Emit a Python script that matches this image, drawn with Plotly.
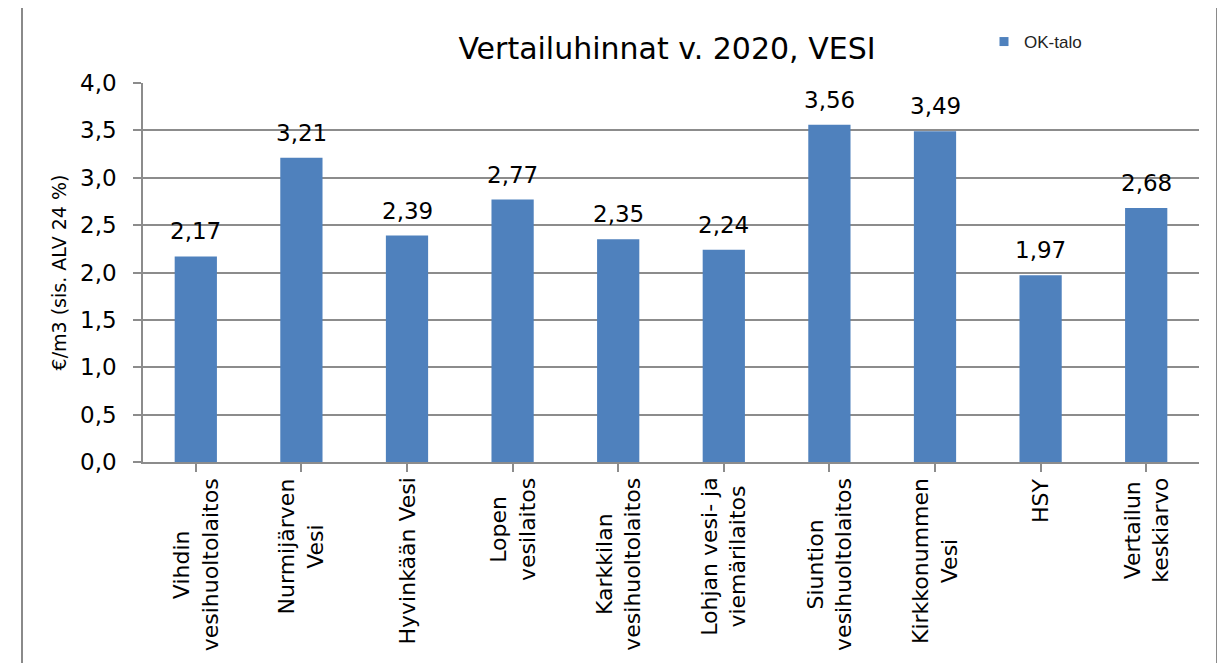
import plotly.graph_objects as go

categories = [
    "Vihdin<br>vesihuoltolaitos",
    "Nurmijärven<br>Vesi",
    "Hyvinkään Vesi",
    "Lopen<br>vesilaitos",
    "Karkkilan<br>vesihuoltolaitos",
    "Lohjan vesi- ja<br>viemärilaitos",
    "Siuntion<br>vesihuoltolaitos",
    "Kirkkonummen<br>Vesi",
    "HSY",
    "Vertailun<br>keskiarvo",
]
values = [2.17, 3.21, 2.39, 2.77, 2.35, 2.24, 3.56, 3.49, 1.97, 2.68]
series_name = "OK-talo"
title_text = "Vertailuhinnat v. 2020, VESI"
y_title = "€/m3 (sis. ALV 24 %)"
y_ticks = [0.0, 0.5, 1.0, 1.5, 2.0, 2.5, 3.0, 3.5, 4.0]

BAR = "#4F81BD"
GRID = "#8c8c8c"
FONT = "DejaVu Sans, Verdana, sans-serif"

# page offset (browser body margin)
OFF = 8
PL, PR, PT, PB = 143, 1199, 83, 462   # target plot-area edges in the picture
W, H = 1225, 663
PW, PH = PR - PL, PB - PT

x_keys = list(range(len(categories)))

fig = go.Figure()
fig.add_trace(go.Bar(
    x=x_keys, y=values, marker=dict(color=BAR, line=dict(width=0)),
    width=0.4, showlegend=False, name=series_name,
))
# legend entry
fig.add_trace(go.Scatter(
    x=[None], y=[None], mode="markers", name=series_name,
    marker=dict(symbol="square", size=9, color=BAR), showlegend=True,
))

annotations = []
for k, v in zip(x_keys, values):
    annotations.append(dict(
        x=k, y=v, xref="x", yref="y", text=f"{v:.2f}".replace(".", ","),
        showarrow=False, yanchor="bottom", yshift=10,
        font=dict(family=FONT, size=23, color="#000000"),
    ))
for k, c in zip(x_keys, categories):
    annotations.append(dict(
        x=k, y=0, xref="x", yref="paper", text=c, textangle=-90,
        showarrow=False, yanchor="top", xanchor="center", align="center", yshift=-14,
        font=dict(family=FONT, size=22, color="#000000"),
    ))

fig.update_layout(
    width=W, height=H,
    margin=dict(l=PL - OFF, r=W - (PR - OFF), t=PT - OFF, b=H - (PB - OFF), autoexpand=False),
    paper_bgcolor="white", plot_bgcolor="white",
    separators=", ",
    font=dict(family=FONT, color="#000000"),
    title=dict(text=title_text, x=(667 - OFF) / W, xanchor="center", y=1 - (48 - OFF) / H,
               yanchor="middle", yref="container",
               font=dict(family=FONT, size=30, color="#000000")),
    showlegend=True,
    legend=dict(x=(984 - PL) / PW, y=1 + (PT - 42) / PH, xanchor="left", yanchor="middle",
                font=dict(family="Liberation Sans, Arial, sans-serif", size=17, color="#222222"),
                bgcolor="rgba(0,0,0,0)", itemwidth=30),
    annotations=annotations,
    bargap=0.6,
    shapes=[dict(type="rect", xref="paper", yref="paper",
                 x0=(22 - PL) / PW, x1=(1217 - PL) / PW,
                 y0=(PB - 700) / PH, y1=1 + (PT - 7) / PH,
                 line=dict(color="#8a8a8a", width=2), fillcolor="rgba(0,0,0,0)", layer="below")],
)
fig.update_xaxes(
    range=[-0.5, len(categories) - 0.5], tickmode="array", tickvals=x_keys,
    showticklabels=False, ticks="outside", tickson="boundaries", ticklen=8,
    tickcolor=GRID, tickwidth=1.5, showline=True, linecolor=GRID, linewidth=1.5,
    showgrid=False, zeroline=False,
)
fig.update_yaxes(
    range=[0, 4.0], tickmode="array", tickvals=y_ticks, tickformat=".1f",
    ticks="outside", ticklen=8, tickcolor=GRID, tickwidth=1.5,
    showline=True, linecolor=GRID, linewidth=1.5,
    showgrid=True, gridcolor=GRID, gridwidth=1.5, zeroline=False,
    tickfont=dict(family=FONT, size=23, color="#000000"), ticklabelstandoff=12,
    title=dict(text=y_title, font=dict(family=FONT, size=19, color="#000000"), standoff=8),
)

fig.write_html("out.html")
